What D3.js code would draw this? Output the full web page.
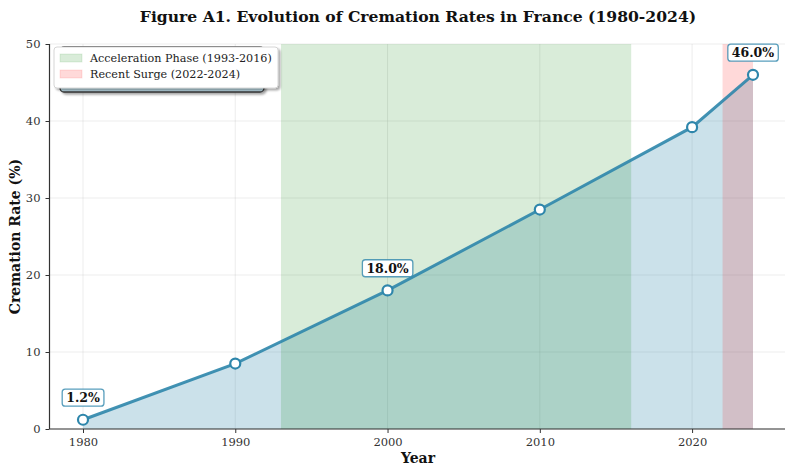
<!DOCTYPE html>
<html>
<head>
<meta charset="utf-8">
<script src="https://cdn.jsdelivr.net/npm/d3@7"></script>
<style>
	body { margin: 0; background: #fff; }
	text { font-family: 'DejaVu Serif', serif; }
</style>
</head>
<body>
<div id="chart"></div>
<script>
// Data
var years = [1980, 1990, 2000, 2010, 2020, 2024];
var rates = [1.2, 8.5, 18.0, 28.5, 39.2, 46.0];
var labelled = [1980, 2000, 2024];
var phases = [
	{ name: 'Acceleration Phase (1993-2016)', start: 1993, end: 2016, color: 'green' },
	{ name: 'Recent Surge (2022-2024)', start: 2022, end: 2024, color: 'red' }
];
var x_ticks = [1980, 1990, 2000, 2010, 2020];
var y_ticks = [0, 10, 20, 30, 40, 50];

var total_width = 785;
var total_height = 467;
var margin = { top: 44, bottom: 38, left: 49.5 };
var width = 737;
var height = total_height - margin.top - margin.bottom;
var line_color = '#2E86AB';

var data = years.map(function(d, i) { return { year: d, rate: rates[i] }; });

var svg = d3.select('#chart')
	.append('svg')
	.attr('width', total_width)
	.attr('height', total_height);

var defs = svg.append('defs');
var filter = defs.append('filter').attr('id', 'shadow').attr('x', '-10%').attr('y', '-10%').attr('width', '130%').attr('height', '140%');
filter.append('feDropShadow').attr('dx', 2).attr('dy', 2).attr('stdDeviation', 1).attr('flood-color', '#000').attr('flood-opacity', 0.35);

var main = svg.append('g')
	.attr('transform', 'translate(' + margin.left + ',' + margin.top + ')');

// Scales (matplotlib style 5% margin on x)
var x = d3.scaleLinear().domain([1977.8, 2026.2]).range([0, width]);
var y = d3.scaleLinear().domain([0, 50]).range([height, 0]);

// Grid
main.selectAll('.vgrid')
	.data(x_ticks)
	.enter()
	.append('line')
	.attr('x1', function(d) { return x(d); })
	.attr('x2', function(d) { return x(d); })
	.attr('y1', 0)
	.attr('y2', height)
	.attr('stroke', '#b0b0b0')
	.attr('stroke-opacity', 0.3)
	.attr('stroke-width', 0.8);

main.selectAll('.hgrid')
	.data(y_ticks)
	.enter()
	.append('line')
	.attr('x1', 0)
	.attr('x2', width)
	.attr('y1', function(d) { return y(d); })
	.attr('y2', function(d) { return y(d); })
	.attr('stroke', '#b0b0b0')
	.attr('stroke-opacity', 0.3)
	.attr('stroke-width', 0.8);

// Area under the line
var area = d3.area()
	.x(function(d) { return x(d.year); })
	.y0(y(0))
	.y1(function(d) { return y(d.rate); });

main.append('path')
	.datum(data)
	.attr('d', area)
	.attr('fill', line_color)
	.attr('fill-opacity', 0.25);

// Highlighted phases
main.selectAll('.span')
	.data(phases)
	.enter()
	.append('rect')
	.attr('x', function(d) { return x(d.start); })
	.attr('width', function(d) { return x(d.end) - x(d.start); })
	.attr('y', 0)
	.attr('height', height)
	.attr('fill', function(d) { return d.color; })
	.attr('fill-opacity', 0.15);

// Line
var line = d3.line()
	.x(function(d) { return x(d.year); })
	.y(function(d) { return y(d.rate); });

main.append('path')
	.datum(data)
	.attr('d', line)
	.attr('fill', 'none')
	.attr('stroke', line_color)
	.attr('stroke-width', 3)
	.attr('stroke-opacity', 0.9);

main.selectAll('.dot')
	.data(data)
	.enter()
	.append('circle')
	.attr('cx', function(d) { return x(d.year); })
	.attr('cy', function(d) { return y(d.rate); })
	.attr('r', 5)
	.attr('fill', '#fff')
	.attr('stroke', line_color)
	.attr('stroke-width', 2.2);

// Axes
var xAxis = main.append('g')
	.attr('transform', 'translate(0,' + height + ')')
	.call(d3.axisBottom(x).tickValues(x_ticks).tickFormat(d3.format('d')).tickSize(4).tickPadding(5));
var yAxis = main.append('g')
	.call(d3.axisLeft(y).tickValues(y_ticks).tickSize(4).tickPadding(5));

[xAxis, yAxis].forEach(function(ax) {
	ax.select('.domain').attr('stroke', '#333').attr('stroke-width', 1.2);
	ax.selectAll('.tick line').attr('stroke', '#333');
	ax.selectAll('.tick text').attr('fill', '#333').attr('font-size', '11.5px').attr('font-family', "'DejaVu Serif', serif");
});
xAxis.select('.domain').attr('d', 'M0,0H' + width);
yAxis.select('.domain').attr('d', 'M0,0V' + height);

// Annotations
var notes = main.selectAll('.note')
	.data(data.filter(function(d) { return labelled.indexOf(d.year) >= 0; }))
	.enter()
	.append('g')
	.attr('class', 'note')
	.attr('transform', function(d) { return 'translate(' + x(d.year) + ',' + (y(d.rate) - 22) + ')'; });

notes.append('text')
	.text(function(d) { return d3.format('.1f')(d.rate) + '%'; })
	.attr('text-anchor', 'middle')
	.attr('dy', '0.35em')
	.attr('font-weight', 'bold')
	.attr('font-size', '12.5px')
	.attr('fill', '#111');

notes.each(function() {
	var g = d3.select(this);
	var bb = g.select('text').node().getBBox();
	g.insert('rect', 'text')
		.attr('x', bb.x - 4)
		.attr('y', bb.y - 1)
		.attr('width', bb.width + 8)
		.attr('height', bb.height + 2)
		.attr('rx', 3)
		.attr('fill', '#fff')
		.attr('stroke', line_color)
		.attr('stroke-opacity', 0.8)
		.attr('stroke-width', 1.3);
});

// Legend behind (mostly hidden)
svg.append('rect')
	.attr('x', 60)
	.attr('y', 47)
	.attr('width', 204)
	.attr('height', 45)
	.attr('rx', 4)
	.attr('fill', '#b9d8e3')
	.attr('stroke', '#333')
	.attr('stroke-width', 1.3)
	.attr('filter', 'url(#shadow)');

// Legend in front
var legend = svg.append('g').attr('transform', 'translate(54,47)');
legend.append('rect')
	.attr('width', 224)
	.attr('height', 41)
	.attr('rx', 3)
	.attr('fill', '#fff')
	.attr('stroke', '#ccc')
	.attr('stroke-width', 0.8)
	.attr('filter', 'url(#shadow)');

var items = legend.selectAll('.item')
	.data(phases)
	.enter()
	.append('g')
	.attr('transform', function(d, i) { return 'translate(6,' + (11 + i * 16) + ')'; });

items.append('rect')
	.attr('y', -4)
	.attr('width', 22)
	.attr('height', 8)
	.attr('fill', function(d) { return d.color; })
	.attr('fill-opacity', 0.15)
	.attr('stroke', function(d) { return d.color; })
	.attr('stroke-opacity', 0.1);

items.append('text')
	.attr('x', 30)
	.attr('dy', '0.35em')
	.attr('font-size', '11.2px')
	.attr('fill', '#222')
	.text(function(d) { return d.name; });

// Titles
svg.append('text')
	.attr('x', 418)
	.attr('y', 22)
	.attr('text-anchor', 'middle')
	.attr('font-weight', 'bold')
	.attr('font-size', '15.6px')
	.attr('fill', '#111')
	.text('Figure A1. Evolution of Cremation Rates in France (1980-2024)');

svg.append('text')
	.attr('x', 418)
	.attr('y', 463)
	.attr('text-anchor', 'middle')
	.attr('font-weight', 'bold')
	.attr('font-size', '14px')
	.attr('fill', '#111')
	.text('Year');

svg.append('text')
	.attr('transform', 'translate(20,' + (margin.top + height / 2) + ') rotate(-90)')
	.attr('text-anchor', 'middle')
	.attr('font-weight', 'bold')
	.attr('font-size', '14px')
	.attr('fill', '#111')
	.text('Cremation Rate (%)');
</script>
</body>
</html>
